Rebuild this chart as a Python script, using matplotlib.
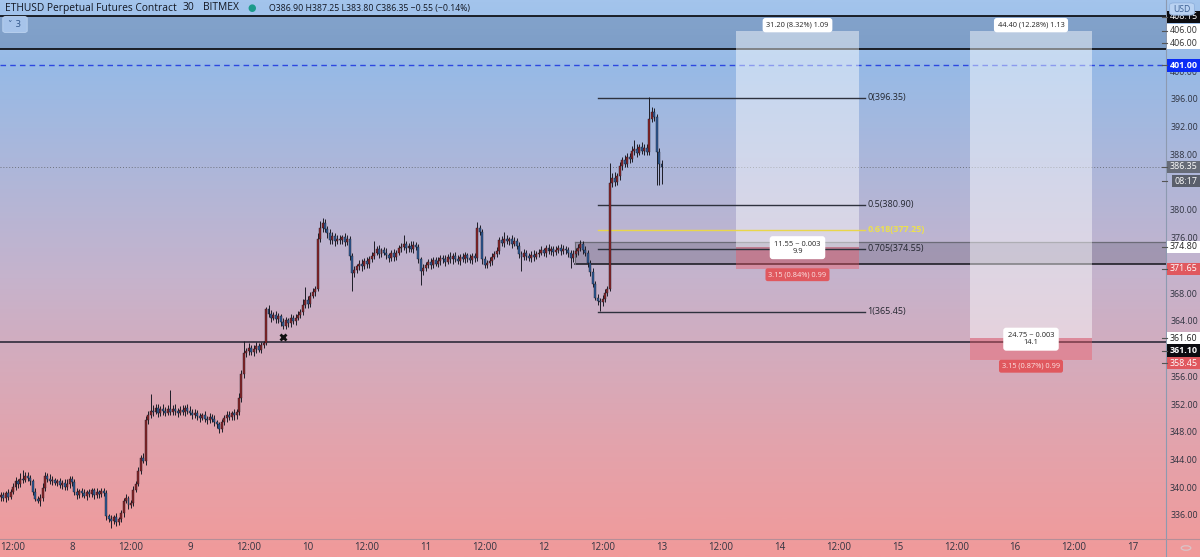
import matplotlib
matplotlib.use("Agg")
import matplotlib.pyplot as plt
import numpy as np
from matplotlib.patches import Rectangle, FancyBboxPatch
from matplotlib.colors import LinearSegmentedColormap
from matplotlib.transforms import blended_transform_factory
from matplotlib.lines import Line2D

# ---------------- data (30-minute candles, open = previous close) ----------------
closes = [
    339.0, 338.6, 339.3, 338.8, 339.5, 340.2, 341.0, 340.6, 341.4, 341.2, 341.8, 341.5,
    341.0, 339.5, 338.5, 338.2, 338.6, 340.0, 341.8, 341.4, 341.0, 341.2, 340.8, 341.0,
    340.5, 340.8, 340.2, 340.6, 341.3, 340.9,
    339.5, 339.0, 339.6, 339.3, 338.9, 339.4, 339.2, 339.7, 339.0, 339.5, 339.1, 339.6,
    339.3, 336.0, 335.6, 335.3, 335.8, 335.2, 335.6, 336.4, 338.2, 338.6, 337.6, 337.9,
    339.8, 340.6, 342.5, 344.3, 344.0, 349.8,
    350.5, 351.2, 351.0, 351.6, 350.8, 351.5, 351.2, 350.9, 351.4, 351.0, 351.5, 351.2,
    350.8, 351.3, 351.0, 351.6, 351.2, 350.9, 350.6, 350.9, 350.4, 350.2, 350.6, 350.0,
    349.8, 350.3, 350.0, 349.6, 349.2, 348.6,
    349.5, 350.2, 350.6, 350.3, 350.8, 350.5, 351.0, 353.0, 356.5, 359.5, 359.8, 360.3,
    359.6, 360.1, 360.5, 360.0, 360.6, 361.0, 365.8, 365.2, 364.6, 365.0, 364.4, 364.8,
    364.0, 363.4, 364.2, 363.8, 364.5, 364.1,
    364.6, 365.0, 365.4, 366.5, 367.2, 366.6, 367.8, 368.3, 368.8, 376.0, 377.5, 378.2,
    377.4, 376.8, 375.8, 376.4, 375.6, 376.0, 375.8, 376.2, 375.5, 376.0, 373.5, 371.0,
    371.5, 372.0, 372.4, 372.0, 372.8, 372.3,
    373.0, 373.5, 374.0, 374.5, 373.8, 374.3, 374.0, 373.6, 373.2, 373.9, 373.4, 374.0,
    374.6, 374.8, 375.2, 374.6, 375.0, 374.5, 375.1, 374.8, 373.0, 371.4, 371.8, 372.2,
    372.6, 372.2, 372.9, 372.4, 372.8, 373.2,
    373.0, 372.7, 373.3, 373.0, 373.5, 373.1, 372.8, 373.4, 373.0, 373.6, 373.2, 372.9,
    373.5, 373.2, 377.5, 377.0, 373.0, 372.2, 372.5, 372.8, 373.4, 373.8, 374.2, 375.8,
    375.4, 376.0, 375.6, 375.9, 375.3, 375.7,
    375.0, 373.8, 373.4, 373.9, 373.5, 373.2, 373.7, 373.4, 373.8, 374.0, 374.3, 374.0,
    374.6, 374.2, 374.5, 374.1, 374.4, 374.7, 374.2, 374.5, 374.3, 374.0, 373.2, 373.8,
    374.2, 374.6, 375.2, 374.4, 374.0, 372.5,
    371.2, 369.5, 367.5, 367.0, 366.8, 367.3, 368.2, 368.8, 384.0, 384.8, 384.2, 385.0,
    386.5, 387.3, 386.8, 387.8, 387.5, 388.6, 389.0, 388.4, 389.2, 388.7, 389.1, 388.5,
    393.3, 394.2, 393.5, 388.5, 386.8, 386.35,
]
first_open = 338.7
upper_wicks = [
    0.4, 0.5, 0.3, 0.6, 0.4, 0.5, 0.6, 0.4, 0.8, 1.2, 0.5, 0.6, 0.4, 0.3, 0.5, 0.4, 0.6, 0.8,
    0.5, 0.4, 0.6, 0.5, 0.3, 0.4, 0.5, 0.4, 0.6, 0.8, 0.5, 0.4,
    0.4, 0.5, 0.3, 0.4, 0.6, 0.4, 0.5, 0.3, 0.4, 0.5, 0.3, 0.4, 0.5, 0.4, 0.3, 0.5, 0.4, 0.6,
    0.3, 0.5, 0.4, 0.6, 0.3, 0.4, 0.5, 0.4, 0.6, 0.5, 0.8, 0.6,
    0.6, 2.4, 0.8, 0.5, 0.6, 0.4, 0.7, 0.5, 0.6, 2.8, 0.5, 0.6, 0.4, 0.5, 0.7, 0.4, 0.5, 0.6,
    0.5, 0.6, 0.4, 0.5, 0.3, 0.6, 0.4, 0.5, 0.4, 0.6, 0.3, 0.4,
    0.5, 0.4, 0.6, 0.5, 0.4, 0.6, 0.5, 0.8, 0.6, 1.8, 0.5, 0.6, 0.4, 0.5, 0.6, 0.4, 0.5, 0.3,
    0.4, 0.6, 0.5, 0.4, 0.6, 0.5, 0.4, 0.6, 0.5, 0.4, 0.6, 0.5,
    0.5, 0.6, 0.5, 0.8, 1.8, 0.6, 0.5, 0.6, 0.4, 0.8, 1.0, 0.8, 0.6, 0.4, 0.6, 0.5, 0.4, 0.6,
    0.5, 0.4, 0.6, 0.5, 0.4, 0.5, 0.6, 0.4, 0.5, 0.6, 0.4, 0.5,
    0.5, 0.6, 1.7, 0.5, 0.6, 0.4, 0.5, 0.6, 0.4, 0.5, 0.6, 0.4, 0.5, 0.6, 1.3, 0.5, 0.4, 0.6,
    0.5, 0.4, 0.5, 0.4, 0.6, 0.5, 0.4, 0.6, 0.5, 0.4, 0.6, 0.5,
    0.4, 0.6, 0.5, 0.8, 0.4, 0.6, 0.5, 0.4, 0.6, 0.5, 0.4, 0.6, 0.5, 0.4, 0.9, 0.5, 0.4, 0.5,
    0.4, 0.6, 0.5, 0.4, 0.6, 0.5, 0.6, 1.0, 0.5, 0.4, 0.6, 0.5,
    0.4, 0.5, 0.4, 0.6, 0.5, 0.4, 0.5, 0.6, 0.4, 0.5, 0.6, 0.4, 0.5, 0.6, 0.4, 0.5, 0.6, 0.4,
    0.5, 0.6, 0.4, 0.5, 0.4, 0.6, 0.5, 0.6, 0.6, 0.4, 0.5, 0.4,
    0.4, 0.5, 0.4, 0.5, 0.4, 0.6, 0.5, 0.4, 2.9, 0.6, 0.8, 0.5, 0.6, 0.5, 0.8, 0.6, 0.5, 0.7,
    1.2, 0.6, 0.5, 0.7, 0.6, 0.5, 3.1, 0.8, 0.6, 0.5, 0.6, 0.5,
]
lower_wicks = [
    0.5, 0.4, 0.6, 0.5, 0.3, 0.4, 0.5, 0.6, 0.4, 0.5, 0.3, 0.4, 0.6, 0.5, 0.4, 0.3, 0.8, 0.5,
    0.4, 0.5, 0.4, 0.6, 0.3, 0.5, 0.4, 0.6, 0.5, 0.4, 0.5, 0.6,
    0.5, 0.6, 0.4, 0.5, 0.3, 0.6, 0.4, 0.5, 0.6, 0.4, 0.5, 0.3, 0.4, 0.6, 0.5, 1.0, 0.4, 0.6,
    0.5, 0.4, 0.5, 0.3, 0.6, 0.4, 0.5, 0.4, 0.3, 0.5, 0.4, 0.6,
    0.5, 0.4, 0.6, 0.3, 0.5, 0.4, 0.6, 0.5, 0.4, 0.5, 0.4, 0.6, 0.5, 0.3, 0.4, 0.6, 0.5, 0.4,
    0.6, 0.4, 0.5, 0.6, 0.4, 0.5, 0.6, 0.4, 0.5, 0.6, 0.5, 0.7,
    0.5, 0.4, 0.6, 0.5, 0.4, 0.6, 0.5, 0.4, 0.5, 0.6, 0.5, 0.6, 0.4, 0.5, 0.6, 0.4, 0.5, 0.4,
    0.3, 0.5, 0.6, 0.4, 0.5, 0.6, 0.6, 0.5, 0.4, 0.6, 0.5, 0.4,
    0.5, 0.4, 0.5, 0.4, 0.5, 0.6, 0.5, 0.4, 0.5, 0.3, 0.5, 0.6, 0.5, 0.7, 0.6, 0.5, 0.6, 0.4,
    0.5, 0.6, 0.5, 0.4, 0.6, 2.5, 0.6, 0.5, 0.5, 0.6, 0.4, 0.5,
    0.5, 0.4, 0.5, 0.4, 0.6, 0.5, 0.4, 0.6, 0.5, 0.4, 0.6, 0.5, 0.4, 0.5, 0.4, 0.6, 0.5, 0.4,
    0.6, 0.5, 0.5, 2.1, 0.6, 0.5, 0.4, 0.6, 0.5, 0.4, 0.5, 0.6,
    0.5, 0.6, 0.4, 0.5, 0.6, 0.4, 0.5, 0.6, 0.4, 0.5, 0.6, 0.4, 0.5, 0.6, 0.4, 0.5, 0.6, 0.5,
    0.4, 0.5, 0.6, 0.4, 0.5, 0.4, 0.5, 0.6, 0.4, 0.5, 0.6, 0.4,
    0.5, 0.6, 2.0, 0.5, 0.6, 0.4, 0.5, 0.6, 0.4, 0.5, 0.4, 0.5, 0.6, 0.4, 0.5, 0.6, 0.4, 0.5,
    0.6, 0.4, 0.5, 0.6, 1.4, 0.5, 0.4, 0.5, 0.4, 0.6, 0.5, 0.6,
    0.6, 0.5, 0.4, 0.5, 1.3, 0.5, 0.4, 0.5, 0.4, 0.5, 0.6, 0.4, 0.5, 0.6, 0.4, 0.5, 0.6, 0.4,
    0.5, 0.6, 0.4, 0.5, 0.6, 0.5, 0.4, 0.5, 0.6, 4.8, 3.0, 2.4,
]
last_bar_day = 5.0          # candle timestamps: days after "8" 00:00, last bar = 13 00:00

fib_levels = [0, 0.5, 0.618, 0.705, 1]
fib_prices = [396.35, 380.90, 377.25, 374.55, 365.45]
zone_top_band = (408.15, 403.35)
zone_gray = (375.5, 372.3)
line_blue = 401.00
line_black = 361.10
last_price = 386.35

positions = [
    dict(x0=5.632, x1=6.675, entry=374.80, target=406.00, stop=371.65,
         top="31.20 (8.32%) 1.09", mid="11.55 ~ 0.003\n9.9", bottom="3.15 (0.84%) 0.99"),
    dict(x0=7.617, x1=8.651, entry=361.60, target=406.00, stop=358.45,
         top="44.40 (12.28%) 1.13", mid="24.75 ~ 0.003\n14.1", bottom="3.15 (0.87%) 0.99"),
]
marker_x, marker_p = 1.79, 361.75

price_ticks = [400, 396, 392, 388, 380, 376, 368, 364, 356, 352, 348, 344, 340, 336]
time_ticks = [-0.5, 0, 0.5, 1, 1.5, 2, 2.5, 3, 3.5, 4, 4.5, 5, 5.5, 6, 6.5, 7, 7.5, 8, 8.5, 9]
time_labels = ["12:00", "8", "12:00", "9", "12:00", "10", "12:00", "11", "12:00", "12",
               "12:00", "13", "12:00", "14", "12:00", "15", "12:00", "16", "12:00", "17"]

# ---------------- figure ----------------
W, H = 1200, 557
PR, PB = 1166, 539
FONT = ["Open Sans", "DejaVu Sans"]
plt.rcParams["font.family"] = FONT

fig = plt.figure(figsize=(W / 100, H / 100), dpi=100)
bg = fig.add_axes([0, 0, 1, 1])
bg.set_axis_off()
cmap = LinearSegmentedColormap.from_list("g", [(0, "#a3c4ec"), (0.12, "#97bae6"),
                                               (0.5, "#c6b3cc"), (0.8, "#e3a3ac"), (1, "#f19a9a")])
grad = np.linspace(0, 1, 400).reshape(-1, 1)
bg.imshow(grad, aspect="auto", cmap=cmap, extent=[0, 1, 0, 1], origin="upper")
bg.set_xlim(0, 1); bg.set_ylim(0, 1)

ax = fig.add_axes([0, (H - PB) / H, PR / W, PB / H])
ax.patch.set_alpha(0)
ax.set_axis_off()
XMIN, XMAX = -72 / 117.9, (PR - 72) / 117.9
YMAX = 396 + 100 / 6.933
YMIN = 396 - (PB - 100) / 6.933
ax.set_xlim(XMIN, XMAX)
ax.set_ylim(YMIN, YMAX)
ax.set_autoscale_on(False)

# separators
bg.plot([PR / W, PR / W], [0, 1], color="#8d9ab0", lw=0.8)
bg.plot([0, 1], [(H - PB) / H, (H - PB) / H], color="#b58e98", lw=0.8)

# top band
ax.add_patch(Rectangle((XMIN, zone_top_band[1]), XMAX - XMIN, zone_top_band[0] - zone_top_band[1],
                       facecolor=(0.1, 0.2, 0.35), alpha=0.22, edgecolor="none", zorder=1))
for p in zone_top_band:
    ax.axhline(p, color="#111318", lw=1.3, zorder=2)

# gray zone
gx0 = (575 - 72) / 117.9
ax.add_patch(Rectangle((gx0, zone_gray[1]), XMAX - gx0, zone_gray[0] - zone_gray[1],
                       facecolor=(0.2, 0.2, 0.28), alpha=0.22, edgecolor="none", zorder=1))
ax.plot([gx0, XMAX], [zone_gray[0]] * 2, color="#6c6c78", lw=0.9, zorder=2)
ax.plot([gx0, XMAX], [zone_gray[1]] * 2, color="#202028", lw=1.2, zorder=2)
ax.plot([gx0, gx0], zone_gray, color="#6c6c78", lw=0.8, zorder=2)

# horizontal lines
ax.axhline(line_blue, color="#2d48e0", lw=1.0, ls=(0, (4, 3)), zorder=2)
ax.axhline(line_black, color="#3b3646", lw=1.3, zorder=2)
ax.axhline(last_price, color="#6e7480", lw=0.7, ls=(0, (1, 2)), zorder=2)

# positions
for pos in positions:
    ax.add_patch(Rectangle((pos["x0"], pos["entry"]), pos["x1"] - pos["x0"], pos["target"] - pos["entry"],
                           facecolor="white", alpha=0.45, edgecolor="none", zorder=3))
    ax.add_patch(Rectangle((pos["x0"], pos["stop"]), pos["x1"] - pos["x0"], pos["entry"] - pos["stop"],
                           facecolor=(0.93, 0.35, 0.4), alpha=0.42, edgecolor="none", zorder=3))
    cx = (pos["x0"] + pos["x1"]) / 2
    ax.text(cx, pos["target"] + 0.8, pos["top"], ha="center", va="center", fontsize=5.3, color="#222",
            zorder=8, bbox=dict(boxstyle="round,pad=0.5,rounding_size=0.4", fc="white", ec="none"))
    ax.text(cx, pos["entry"] - 0.1, pos["mid"], ha="center", va="center", fontsize=5.4, color="#222",
            linespacing=1.0, zorder=8,
            bbox=dict(boxstyle="round,pad=0.6,rounding_size=0.4", fc="white", ec="none"))
    ax.text(cx, pos["stop"] - 0.85, pos["bottom"], ha="center", va="center", fontsize=5.3, color="#fbe4e4",
            zorder=8, bbox=dict(boxstyle="round,pad=0.4,rounding_size=0.3", fc="#e0585e", ec="none"))

# fib retracement
fx0, fx1 = (598 - 72) / 117.9, (865 - 72) / 117.9
for lvl, p in zip(fib_levels, fib_prices):
    col = "#e9d64a" if lvl == 0.618 else "#2e323e"
    ax.plot([fx0, fx1], [p, p], color=col, lw=1.0, zorder=4)
    ax.text(fx1 + 0.02, p, f"{lvl:g}({p:.2f})", ha="left", va="center", fontsize=6.5,
            color="#ece04e" if lvl == 0.618 else "#23262f",
            fontweight="bold" if lvl == 0.618 else "normal", zorder=8)

# candles
n = len(closes)
t = np.array([last_bar_day - (n - 1 - k) / 48 for k in range(n)])
c = np.array(closes)
o = np.concatenate([[first_open], c[:-1]])
hi = np.maximum(o, c) + np.array(upper_wicks)
lo = np.minimum(o, c) - np.array(lower_wicks)
up = c >= o
ax.vlines(t, lo, hi, color="#1c1c26", lw=0.7, zorder=5)
bw = 0.8 / 48
body_lo = np.minimum(o, c)
body_h = np.maximum(np.abs(c - o), 0.15)
ax.bar(t[up], body_h[up], bottom=body_lo[up], width=bw, color="#8c2427", edgecolor="#1c1c26", lw=0.3, zorder=6)
ax.bar(t[~up], body_h[~up], bottom=body_lo[~up], width=bw, color="#2d5b97", edgecolor="#1c1c26", lw=0.3, zorder=6)

ax.plot([marker_x], [marker_p], marker="x", ms=5, mew=2.0, color="#111", zorder=7)

# ---------------- right price axis ----------------
blend = blended_transform_factory(fig.transFigure, ax.transData)
LX = 1184 / W
for p in price_ticks:
    ax.text(LX, p, f"{p:.2f}", transform=blend, ha="center", va="center", fontsize=6.4,
            color="#2f3340", clip_on=False, zorder=9)

def plabel(p, text, bgc, fg, x0=1167, bold=False):
    hh = 6.2 / 6.933
    ax.add_patch(Rectangle((x0 / W, p - hh), (W - x0) / W, 2 * hh, transform=blend, facecolor=bgc,
                           edgecolor="none", clip_on=False, zorder=10))
    ax.add_line(Line2D([1162 / W, 1167 / W], [p, p], transform=blend, color="#555", lw=0.8, clip_on=False, zorder=10))
    ax.text((x0 + W) / 2 / W, p, text, transform=blend, ha="center", va="center", fontsize=6.4,
            color=fg, clip_on=False, zorder=11, fontweight="bold" if bold else "normal")

plabel(408.0, "408.15", "#0c0c10", "white")
plabel(406.0, "406.00", "white", "#333")
plabel(404.2, "406.00", "white", "#333")
plabel(401.0, "401.00", "#0a2cf5", "white", bold=True)
plabel(386.35, "386.35", "#676c78", "white")
plabel(384.3, "08:17", "#5a5f6b", "white", x0=1172)
plabel(374.8, "374.80", "white", "#222")
plabel(371.65, "371.65", "#e0585e", "white")
plabel(361.6, "361.60", "white", "#222")
plabel(359.85, "361.10", "#0c0c10", "white", bold=True)
plabel(358.05, "358.45", "#e0585e", "white")

# USD box
fig.patches.append(FancyBboxPatch((1172 / W, (H - 14) / H), 20 / W, 10 / H, transform=fig.transFigure,
                                  boxstyle="round,pad=0.002,rounding_size=0.004",
                                  facecolor="#b9d2f2", edgecolor="#8fb0dc", lw=0.6, zorder=12))
fig.text(1182 / W, (H - 9) / H, "USD", ha="center", va="center", fontsize=6.2, color="#3b5f92", zorder=13)

# ---------------- time axis ----------------
for tt, lab in zip(time_ticks, time_labels):
    xf = (72 + tt * 117.9) / W
    fig.text(xf, (H - 548) / H, lab, ha="center", va="center", fontsize=7, color="#2f3340")
fig.patches.append(matplotlib.patches.Circle((1186 / W, (H - 548) / H), 0.004, transform=fig.transFigure,
                                             facecolor="none", edgecolor="#d8c4c8", lw=0.9))

# ---------------- header ----------------
fig.text(5 / W, (H - 8) / H, "ETHUSD Perpetual Futures Contract", ha="left", va="center",
         fontsize=7.4, color="#131722")
fig.text(183 / W, (H - 8) / H, "30", ha="left", va="center", fontsize=7.4, color="#131722")
fig.text(203 / W, (H - 8) / H, "BITMEX", ha="left", va="center", fontsize=7.4, color="#131722")
fig.text(252 / W, (H - 8) / H, "●", ha="center", va="center", fontsize=7, color="#1c9a8a",
         family=["DejaVu Sans"])
fig.text(269 / W, (H - 8) / H, "O386.90 H387.25 L383.80 C386.35 \u22120.55 (\u22120.14%)", ha="left",
         va="center", fontsize=6.3, color="#131722")
fig.patches.append(FancyBboxPatch((4 / W, (H - 32) / H), 22 / W, 15 / H, transform=fig.transFigure,
                                  boxstyle="round,pad=0.001,rounding_size=0.003",
                                  facecolor="#a7c4ea", edgecolor="#bcd3f0", lw=0.6))
fig.text(15 / W, (H - 24.5) / H, "\u02c5 3", ha="center", va="center", fontsize=6.5, color="#34598c",
         family=["DejaVu Sans"])

fig.savefig("out.png", dpi=100)
